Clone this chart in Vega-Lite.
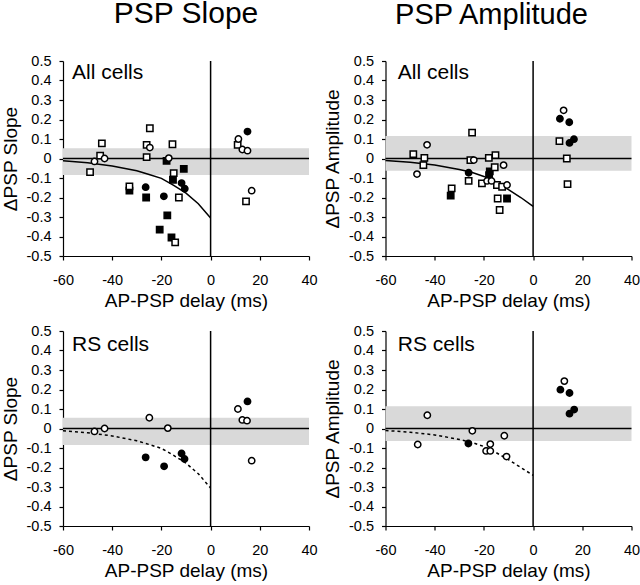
{
  "$schema": "https://vega.github.io/schema/vega-lite/v6.json",
  "background": "white",
  "padding": {"left": 1, "top": -1, "right": 5, "bottom": 0},
  "columns": 2,
  "bounds": "flush",
  "spacing": {"row": 75, "column": 76.5},
  "config": {
    "font": "Liberation Sans",
    "view": {"stroke": null},
    "axis": {"grid": false, "domainColor": "black", "tickColor": "black", "labelColor": "black", "titleColor": "black", "labelFontSize": 14.5, "titleFontSize": 19, "titleFontWeight": "normal", "labelFont": "Liberation Sans", "titleFont": "Liberation Sans", "domainWidth": 1.2, "tickWidth": 1.2},
    "axisX": {"tickCount": 5, "tickSize": 4, "labelPadding": 13, "titlePadding": 5, "labelExpr": "(datum.value < 0 ? '-' : '') + format(abs(datum.value), 'd')", "labelFlush": false},
    "axisY": {"tickCount": 10, "tickSize": 4, "labelPadding": 8, "titlePadding": 6, "labelExpr": "abs(datum.value) < 1e-9 ? '0' : (datum.value < 0 ? '-' : '') + format(abs(datum.value), '.1f')", "labelFlush": false},
    "title": {"fontSize": 30, "fontWeight": "normal", "font": "Liberation Sans", "color": "black"}
  },
  "concat": [
    {
      "width": 246, "height": 195,
      "title": {"text": "PSP Slope", "frame": "group", "anchor": "middle", "baseline": "alphabetic", "offset": 0},
      "layer": [
        {"data": {"values": [{"x1": -60, "x2": 40, "y1": -0.085, "y2": 0.053}]},
         "mark": {"type": "rect", "color": "#d9d9d9"},
         "encoding": {"x": {"field": "x1", "type": "quantitative", "scale": {"domain": [-60, 40], "nice": false}, "title": "AP-PSP delay (ms)"}, "x2": {"field": "x2"}, "y": {"field": "y1", "type": "quantitative", "scale": {"domain": [-0.5, 0.5], "nice": false}, "title": "ΔPSP Slope"}, "y2": {"field": "y2"}}},
        {"data": {"values": [{"y": 0}]}, "mark": {"type": "rule", "color": "black", "strokeWidth": 1.5},
         "encoding": {"y": {"field": "y", "type": "quantitative", "scale": {"domain": [-0.5, 0.5], "nice": false}, "title": "ΔPSP Slope"}}},
        {"data": {"values": [{"x": 0}]}, "mark": {"type": "rule", "color": "black", "strokeWidth": 1.5},
         "encoding": {"x": {"field": "x", "type": "quantitative", "scale": {"domain": [-60, 40], "nice": false}, "title": "AP-PSP delay (ms)"}}},
        {"data": {"values": [{"x": -60, "y": -0.012}, {"x": -50, "y": -0.022}, {"x": -40, "y": -0.038}, {"x": -30, "y": -0.063}, {"x": -25, "y": -0.082}, {"x": -20, "y": -0.102}, {"x": -15, "y": -0.138}, {"x": -10, "y": -0.178}, {"x": -5, "y": -0.232}, {"x": 0, "y": -0.305}]},
         "mark": {"type": "line", "color": "black", "strokeWidth": 1.5},
         "encoding": {"x": {"field": "x", "type": "quantitative", "scale": {"domain": [-60, 40], "nice": false}, "title": "AP-PSP delay (ms)"}, "y": {"field": "y", "type": "quantitative", "scale": {"domain": [-0.5, 0.5], "nice": false}, "title": "ΔPSP Slope"}}},
        {"data": {"values": [
          {"x": -33, "y": -0.165, "shape": "square", "fill": "filled"},
          {"x": -26.2, "y": -0.2, "shape": "square", "fill": "filled"},
          {"x": -17.6, "y": -0.292, "shape": "square", "fill": "filled"},
          {"x": -20.7, "y": -0.365, "shape": "square", "fill": "filled"},
          {"x": -15.9, "y": -0.405, "shape": "square", "fill": "filled"},
          {"x": -10.9, "y": -0.053, "shape": "square", "fill": "filled"},
          {"x": -15.3, "y": -0.109, "shape": "square", "fill": "filled"},
          {"x": -17.9, "y": -0.012, "shape": "square", "fill": "filled"},
          {"x": -49, "y": -0.07, "shape": "square", "fill": "open"},
          {"x": -44.2, "y": 0.078, "shape": "square", "fill": "open"},
          {"x": -44.9, "y": 0.015, "shape": "square", "fill": "open"},
          {"x": -24.7, "y": 0.155, "shape": "square", "fill": "open"},
          {"x": -26, "y": 0.07, "shape": "square", "fill": "open"},
          {"x": -26, "y": 0.007, "shape": "square", "fill": "open"},
          {"x": -15.5, "y": 0.073, "shape": "square", "fill": "open"},
          {"x": -15, "y": -0.075, "shape": "square", "fill": "open"},
          {"x": -12.9, "y": -0.2, "shape": "square", "fill": "open"},
          {"x": -14.4, "y": -0.43, "shape": "square", "fill": "open"},
          {"x": 11, "y": 0.07, "shape": "square", "fill": "open"},
          {"x": 14.4, "y": -0.22, "shape": "square", "fill": "open"},
          {"x": -33, "y": -0.143, "shape": "square", "fill": "open"},
          {"x": -47.2, "y": -0.015, "shape": "circle", "fill": "open"},
          {"x": -43.1, "y": 0, "shape": "circle", "fill": "open"},
          {"x": -24.7, "y": 0.056, "shape": "circle", "fill": "open"},
          {"x": -17, "y": 0.002, "shape": "circle", "fill": "open"},
          {"x": 11.3, "y": 0.1, "shape": "circle", "fill": "open"},
          {"x": 12.9, "y": 0.046, "shape": "circle", "fill": "open"},
          {"x": 15, "y": 0.04, "shape": "circle", "fill": "open"},
          {"x": 16.7, "y": -0.165, "shape": "circle", "fill": "open"},
          {"x": 15, "y": 0.138, "shape": "circle", "fill": "filled"},
          {"x": -26.4, "y": -0.147, "shape": "circle", "fill": "filled"},
          {"x": -19, "y": -0.194, "shape": "circle", "fill": "filled"},
          {"x": -11.8, "y": -0.126, "shape": "circle", "fill": "filled"},
          {"x": -10.5, "y": -0.155, "shape": "circle", "fill": "filled"}
        ]},
         "mark": {"type": "point", "filled": true, "stroke": "black", "strokeWidth": 1.5, "opacity": 1, "size": 40},
         "encoding": {"x": {"field": "x", "type": "quantitative", "scale": {"domain": [-60, 40], "nice": false}, "title": "AP-PSP delay (ms)"}, "y": {"field": "y", "type": "quantitative", "scale": {"domain": [-0.5, 0.5], "nice": false}, "title": "ΔPSP Slope"},
           "shape": {"field": "shape", "type": "nominal", "scale": {"domain": ["circle", "square"], "range": ["circle", "square"]}, "legend": null},
           "fill": {"field": "fill", "type": "nominal", "scale": {"domain": ["open", "filled"], "range": ["white", "black"]}, "legend": null}}},
        {"data": {"values": [{"x": -56.3, "y": 0.408, "label": "All cells"}]},
         "mark": {"type": "text", "align": "left", "baseline": "alphabetic", "fontSize": 21, "color": "black"},
         "encoding": {"x": {"field": "x", "type": "quantitative", "scale": {"domain": [-60, 40], "nice": false}, "title": "AP-PSP delay (ms)"}, "y": {"field": "y", "type": "quantitative", "scale": {"domain": [-0.5, 0.5], "nice": false}, "title": "ΔPSP Slope"}, "text": {"field": "label"}}}
      ]
    },
    {
      "width": 246, "height": 195,
      "title": {"text": "PSP Amplitude", "frame": "group", "anchor": "middle", "baseline": "alphabetic", "offset": 0, "dx": -17, "fontSize": 29},
      "layer": [
        {"data": {"values": [{"x1": -60, "x2": 40, "y1": -0.063, "y2": 0.116}]},
         "mark": {"type": "rect", "color": "#d9d9d9"},
         "encoding": {"x": {"field": "x1", "type": "quantitative", "scale": {"domain": [-60, 40], "nice": false}, "title": "AP-PSP delay (ms)"}, "x2": {"field": "x2"}, "y": {"field": "y1", "type": "quantitative", "scale": {"domain": [-0.5, 0.5], "nice": false}, "title": "ΔPSP Amplitude"}, "y2": {"field": "y2"}}},
        {"data": {"values": [{"y": 0}]}, "mark": {"type": "rule", "color": "black", "strokeWidth": 1.5},
         "encoding": {"y": {"field": "y", "type": "quantitative", "scale": {"domain": [-0.5, 0.5], "nice": false}, "title": "ΔPSP Amplitude"}}},
        {"data": {"values": [{"x": 0}]}, "mark": {"type": "rule", "color": "black", "strokeWidth": 1.5},
         "encoding": {"x": {"field": "x", "type": "quantitative", "scale": {"domain": [-60, 40], "nice": false}, "title": "AP-PSP delay (ms)"}}},
        {"data": {"values": [{"x": -60, "y": -0.01}, {"x": -50, "y": -0.019}, {"x": -40, "y": -0.033}, {"x": -30, "y": -0.056}, {"x": -25, "y": -0.071}, {"x": -20, "y": -0.092}, {"x": -15, "y": -0.124}, {"x": -10, "y": -0.16}, {"x": -5, "y": -0.2}, {"x": 0, "y": -0.245}]},
         "mark": {"type": "line", "color": "black", "strokeWidth": 1.5},
         "encoding": {"x": {"field": "x", "type": "quantitative", "scale": {"domain": [-60, 40], "nice": false}, "title": "AP-PSP delay (ms)"}, "y": {"field": "y", "type": "quantitative", "scale": {"domain": [-0.5, 0.5], "nice": false}, "title": "ΔPSP Amplitude"}}},
        {"data": {"values": [
          {"x": -33.5, "y": -0.19, "shape": "square", "fill": "filled"},
          {"x": -10.6, "y": -0.205, "shape": "square", "fill": "filled"},
          {"x": -17.6, "y": -0.066, "shape": "square", "fill": "filled"},
          {"x": -17.9, "y": -0.085, "shape": "square", "fill": "filled"},
          {"x": -48.7, "y": 0.022, "shape": "square", "fill": "open"},
          {"x": -44.2, "y": 0.003, "shape": "square", "fill": "open"},
          {"x": -44.6, "y": -0.034, "shape": "square", "fill": "open"},
          {"x": -24.8, "y": 0.133, "shape": "square", "fill": "open"},
          {"x": -25.5, "y": -0.008, "shape": "square", "fill": "open"},
          {"x": -26.2, "y": -0.115, "shape": "square", "fill": "open"},
          {"x": -33.1, "y": -0.153, "shape": "square", "fill": "open"},
          {"x": -20.8, "y": -0.128, "shape": "square", "fill": "open"},
          {"x": -18, "y": 0.003, "shape": "square", "fill": "open"},
          {"x": -15.3, "y": 0.017, "shape": "square", "fill": "open"},
          {"x": -15.6, "y": -0.045, "shape": "square", "fill": "open"},
          {"x": -14.7, "y": -0.136, "shape": "square", "fill": "open"},
          {"x": -12.6, "y": -0.145, "shape": "square", "fill": "open"},
          {"x": -14.4, "y": -0.205, "shape": "square", "fill": "open"},
          {"x": -13.6, "y": -0.264, "shape": "square", "fill": "open"},
          {"x": 10.7, "y": 0.089, "shape": "square", "fill": "open"},
          {"x": 13.7, "y": 0, "shape": "square", "fill": "open"},
          {"x": 14, "y": -0.131, "shape": "square", "fill": "open"},
          {"x": -43.1, "y": 0.07, "shape": "circle", "fill": "open"},
          {"x": -47.2, "y": -0.08, "shape": "circle", "fill": "open"},
          {"x": -24.1, "y": -0.008, "shape": "circle", "fill": "open"},
          {"x": -18.7, "y": -0.115, "shape": "circle", "fill": "open"},
          {"x": -16.9, "y": -0.115, "shape": "circle", "fill": "open"},
          {"x": -12, "y": -0.034, "shape": "circle", "fill": "open"},
          {"x": -10.6, "y": -0.136, "shape": "circle", "fill": "open"},
          {"x": 12.4, "y": 0.247, "shape": "circle", "fill": "open"},
          {"x": 10.9, "y": 0.204, "shape": "circle", "fill": "filled"},
          {"x": 14.7, "y": 0.186, "shape": "circle", "fill": "filled"},
          {"x": 14.8, "y": 0.08, "shape": "circle", "fill": "filled"},
          {"x": 16.6, "y": 0.099, "shape": "circle", "fill": "filled"},
          {"x": -26.2, "y": -0.073, "shape": "circle", "fill": "filled"}
        ]},
         "mark": {"type": "point", "filled": true, "stroke": "black", "strokeWidth": 1.5, "opacity": 1, "size": 40},
         "encoding": {"x": {"field": "x", "type": "quantitative", "scale": {"domain": [-60, 40], "nice": false}, "title": "AP-PSP delay (ms)"}, "y": {"field": "y", "type": "quantitative", "scale": {"domain": [-0.5, 0.5], "nice": false}, "title": "ΔPSP Amplitude"},
           "shape": {"field": "shape", "type": "nominal", "scale": {"domain": ["circle", "square"], "range": ["circle", "square"]}, "legend": null},
           "fill": {"field": "fill", "type": "nominal", "scale": {"domain": ["open", "filled"], "range": ["white", "black"]}, "legend": null}}},
        {"data": {"values": [{"x": -55, "y": 0.408, "label": "All cells"}]},
         "mark": {"type": "text", "align": "left", "baseline": "alphabetic", "fontSize": 21, "color": "black"},
         "encoding": {"x": {"field": "x", "type": "quantitative", "scale": {"domain": [-60, 40], "nice": false}, "title": "AP-PSP delay (ms)"}, "y": {"field": "y", "type": "quantitative", "scale": {"domain": [-0.5, 0.5], "nice": false}, "title": "ΔPSP Amplitude"}, "text": {"field": "label"}}}
      ]
    },
    {
      "width": 246, "height": 195,
      "layer": [
        {"data": {"values": [{"x1": -60, "x2": 40, "y1": -0.085, "y2": 0.055}]},
         "mark": {"type": "rect", "color": "#d9d9d9"},
         "encoding": {"x": {"field": "x1", "type": "quantitative", "scale": {"domain": [-60, 40], "nice": false}, "title": "AP-PSP delay (ms)"}, "x2": {"field": "x2"}, "y": {"field": "y1", "type": "quantitative", "scale": {"domain": [-0.5, 0.5], "nice": false}, "title": "ΔPSP Slope"}, "y2": {"field": "y2"}}},
        {"data": {"values": [{"y": 0}]}, "mark": {"type": "rule", "color": "black", "strokeWidth": 1.5},
         "encoding": {"y": {"field": "y", "type": "quantitative", "scale": {"domain": [-0.5, 0.5], "nice": false}, "title": "ΔPSP Slope"}}},
        {"data": {"values": [{"x": 0}]}, "mark": {"type": "rule", "color": "black", "strokeWidth": 1.5},
         "encoding": {"x": {"field": "x", "type": "quantitative", "scale": {"domain": [-60, 40], "nice": false}, "title": "AP-PSP delay (ms)"}}},
        {"data": {"values": [{"x": -60, "y": -0.012}, {"x": -50, "y": -0.022}, {"x": -40, "y": -0.038}, {"x": -30, "y": -0.063}, {"x": -25, "y": -0.082}, {"x": -20, "y": -0.102}, {"x": -15, "y": -0.138}, {"x": -10, "y": -0.178}, {"x": -5, "y": -0.232}, {"x": 0, "y": -0.305}]},
         "mark": {"type": "line", "color": "black", "strokeWidth": 1.5, "strokeDash": [3, 3]},
         "encoding": {"x": {"field": "x", "type": "quantitative", "scale": {"domain": [-60, 40], "nice": false}, "title": "AP-PSP delay (ms)"}, "y": {"field": "y", "type": "quantitative", "scale": {"domain": [-0.5, 0.5], "nice": false}, "title": "ΔPSP Slope"}}},
        {"data": {"values": [
          {"x": -47.2, "y": -0.015, "shape": "circle", "fill": "open"},
          {"x": -43.1, "y": 0, "shape": "circle", "fill": "open"},
          {"x": -24.9, "y": 0.055, "shape": "circle", "fill": "open"},
          {"x": -17.4, "y": 0.002, "shape": "circle", "fill": "open"},
          {"x": 11.1, "y": 0.1, "shape": "circle", "fill": "open"},
          {"x": 12.9, "y": 0.044, "shape": "circle", "fill": "open"},
          {"x": 14.8, "y": 0.04, "shape": "circle", "fill": "open"},
          {"x": 16.7, "y": -0.165, "shape": "circle", "fill": "open"},
          {"x": 15, "y": 0.139, "shape": "circle", "fill": "filled"},
          {"x": -26.4, "y": -0.148, "shape": "circle", "fill": "filled"},
          {"x": -18.9, "y": -0.194, "shape": "circle", "fill": "filled"},
          {"x": -11.8, "y": -0.128, "shape": "circle", "fill": "filled"},
          {"x": -10.6, "y": -0.156, "shape": "circle", "fill": "filled"}
        ]},
         "mark": {"type": "point", "filled": true, "stroke": "black", "strokeWidth": 1.5, "opacity": 1, "size": 40},
         "encoding": {"x": {"field": "x", "type": "quantitative", "scale": {"domain": [-60, 40], "nice": false}, "title": "AP-PSP delay (ms)"}, "y": {"field": "y", "type": "quantitative", "scale": {"domain": [-0.5, 0.5], "nice": false}, "title": "ΔPSP Slope"},
           "shape": {"field": "shape", "type": "nominal", "scale": {"domain": ["circle", "square"], "range": ["circle", "square"]}, "legend": null},
           "fill": {"field": "fill", "type": "nominal", "scale": {"domain": ["open", "filled"], "range": ["white", "black"]}, "legend": null}}},
        {"data": {"values": [{"x": -56.3, "y": 0.4, "label": "RS cells"}]},
         "mark": {"type": "text", "align": "left", "baseline": "alphabetic", "fontSize": 21, "color": "black"},
         "encoding": {"x": {"field": "x", "type": "quantitative", "scale": {"domain": [-60, 40], "nice": false}, "title": "AP-PSP delay (ms)"}, "y": {"field": "y", "type": "quantitative", "scale": {"domain": [-0.5, 0.5], "nice": false}, "title": "ΔPSP Slope"}, "text": {"field": "label"}}}
      ]
    },
    {
      "width": 246, "height": 195,
      "layer": [
        {"data": {"values": [{"x1": -60, "x2": 40, "y1": -0.064, "y2": 0.114}]},
         "mark": {"type": "rect", "color": "#d9d9d9"},
         "encoding": {"x": {"field": "x1", "type": "quantitative", "scale": {"domain": [-60, 40], "nice": false}, "title": "AP-PSP delay (ms)"}, "x2": {"field": "x2"}, "y": {"field": "y1", "type": "quantitative", "scale": {"domain": [-0.5, 0.5], "nice": false}, "title": "ΔPSP Amplitude"}, "y2": {"field": "y2"}}},
        {"data": {"values": [{"y": 0}]}, "mark": {"type": "rule", "color": "black", "strokeWidth": 1.5},
         "encoding": {"y": {"field": "y", "type": "quantitative", "scale": {"domain": [-0.5, 0.5], "nice": false}, "title": "ΔPSP Amplitude"}}},
        {"data": {"values": [{"x": 0}]}, "mark": {"type": "rule", "color": "black", "strokeWidth": 1.5},
         "encoding": {"x": {"field": "x", "type": "quantitative", "scale": {"domain": [-60, 40], "nice": false}, "title": "AP-PSP delay (ms)"}}},
        {"data": {"values": [{"x": -60, "y": -0.01}, {"x": -50, "y": -0.019}, {"x": -40, "y": -0.033}, {"x": -30, "y": -0.056}, {"x": -25, "y": -0.071}, {"x": -20, "y": -0.092}, {"x": -15, "y": -0.124}, {"x": -10, "y": -0.16}, {"x": -5, "y": -0.2}, {"x": 0, "y": -0.24}]},
         "mark": {"type": "line", "color": "black", "strokeWidth": 1.5, "strokeDash": [3, 3]},
         "encoding": {"x": {"field": "x", "type": "quantitative", "scale": {"domain": [-60, 40], "nice": false}, "title": "AP-PSP delay (ms)"}, "y": {"field": "y", "type": "quantitative", "scale": {"domain": [-0.5, 0.5], "nice": false}, "title": "ΔPSP Amplitude"}}},
        {"data": {"values": [
          {"x": -43, "y": 0.068, "shape": "circle", "fill": "open"},
          {"x": -46.9, "y": -0.082, "shape": "circle", "fill": "open"},
          {"x": -24.7, "y": -0.012, "shape": "circle", "fill": "open"},
          {"x": -19.1, "y": -0.115, "shape": "circle", "fill": "open"},
          {"x": -17.4, "y": -0.115, "shape": "circle", "fill": "open"},
          {"x": -17.4, "y": -0.08, "shape": "circle", "fill": "open"},
          {"x": -11.7, "y": -0.037, "shape": "circle", "fill": "open"},
          {"x": -10.8, "y": -0.144, "shape": "circle", "fill": "open"},
          {"x": 12.7, "y": 0.243, "shape": "circle", "fill": "open"},
          {"x": 11.1, "y": 0.199, "shape": "circle", "fill": "filled"},
          {"x": 14.8, "y": 0.182, "shape": "circle", "fill": "filled"},
          {"x": 14.8, "y": 0.076, "shape": "circle", "fill": "filled"},
          {"x": 16.7, "y": 0.097, "shape": "circle", "fill": "filled"},
          {"x": -26.3, "y": -0.077, "shape": "circle", "fill": "filled"}
        ]},
         "mark": {"type": "point", "filled": true, "stroke": "black", "strokeWidth": 1.5, "opacity": 1, "size": 40},
         "encoding": {"x": {"field": "x", "type": "quantitative", "scale": {"domain": [-60, 40], "nice": false}, "title": "AP-PSP delay (ms)"}, "y": {"field": "y", "type": "quantitative", "scale": {"domain": [-0.5, 0.5], "nice": false}, "title": "ΔPSP Amplitude"},
           "shape": {"field": "shape", "type": "nominal", "scale": {"domain": ["circle", "square"], "range": ["circle", "square"]}, "legend": null},
           "fill": {"field": "fill", "type": "nominal", "scale": {"domain": ["open", "filled"], "range": ["white", "black"]}, "legend": null}}},
        {"data": {"values": [{"x": -55, "y": 0.4, "label": "RS cells"}]},
         "mark": {"type": "text", "align": "left", "baseline": "alphabetic", "fontSize": 21, "color": "black"},
         "encoding": {"x": {"field": "x", "type": "quantitative", "scale": {"domain": [-60, 40], "nice": false}, "title": "AP-PSP delay (ms)"}, "y": {"field": "y", "type": "quantitative", "scale": {"domain": [-0.5, 0.5], "nice": false}, "title": "ΔPSP Amplitude"}, "text": {"field": "label"}}}
      ]
    }
  ]
}
